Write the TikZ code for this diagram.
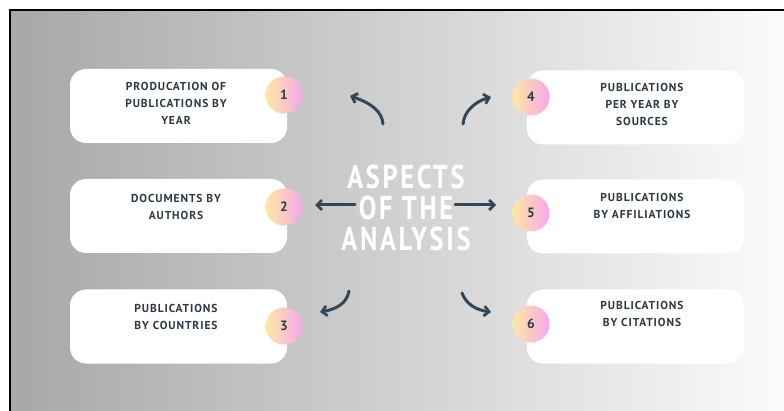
\documentclass[tikz,border=0pt]{standalone}
\usepackage{fontspec}
\newfontfamily\labfont[LetterSpace=8]{PT Sans}
\newfontfamily\titlefont[FakeStretch=0.8,LetterSpace=8]{PT Sans}
\usetikzlibrary{arrows.meta}
\definecolor{ink}{HTML}{2B3946}
\definecolor{arr}{HTML}{33475A}
\definecolor{bgl}{HTML}{A7A7A7}
\definecolor{bgr}{HTML}{FBFBFB}
\definecolor{cy}{HTML}{FDE9A2}
\definecolor{cp}{HTML}{F8A6EC}
\begin{document}
\begin{tikzpicture}[x=1pt,y=-1pt,
  card/.style={fill=white,rounded corners=16pt,minimum width=217pt,minimum height=74pt,draw=none,inner sep=0pt},
  lab/.style={font=\labfont\bfseries\fontsize{11.5}{17}\selectfont,text=ink,align=center,inner sep=0pt},
  badge/.style={circle,minimum size=37pt,left color=cy,right color=cp,font=\labfont\bfseries\fontsize{13.5}{14}\selectfont,text=ink,inner sep=0pt},
  title/.style={font=\titlefont\bfseries\fontsize{33}{31}\selectfont,text=white,align=center,inner sep=0pt},
  arw/.style={draw=arr,line width=3pt,line cap=round,-{Straight Barb[length=5pt,width=10pt,line width=2.8pt]}}
]
\useasboundingbox (0,0) rectangle (784,411);
\fill[white] (0,0) rectangle (784,411);
\shade[left color=bgl,right color=bgr] (10,10) rectangle (784,411);
\draw[black,line width=2.5pt] (10,411) -- (10,10) -- (784,10);

% cards
\node[card] (c1) at (178.5,106) {};
\node[card] (c2) at (178.5,216) {};
\node[card] (c3) at (178.5,326.5) {};
\node[card] (c4) at (635.5,107.5) {};
\node[card] (c5) at (635.5,216.5) {};
\node[card] (c6) at (635.5,326.5) {};

% labels
\node[lab] (t1) at (176,103.5) {PRODUCATION OF\\PUBLICATIONS BY\\YEAR};
\node[lab] (t2) at (176,206.5) {DOCUMENTS BY\\AUTHORS};
\node[lab] (t3) at (176,317) {PUBLICATIONS\\BY COUNTRIES};
\node[lab] (t4) at (642,104) {PUBLICATIONS\\PER YEAR BY\\SOURCES};
\node[lab] (t5) at (642,205.5) {PUBLICATIONS\\BY AFFILIATIONS};
\node[lab] (t6) at (642,313.5) {PUBLICATIONS\\BY CITATIONS};

% badges
\node[badge] (b1) at (284,95) {1};
\node[badge] (b2) at (284,207) {2};
\node[badge] (b3) at (284,326) {3};
\node[badge] (b4) at (531,97) {4};
\node[badge] (b5) at (531,213) {5};
\node[badge] (b6) at (531,324) {6};

% title
\node[title] (ttl) at (406,208) {ASPECTS\\OF THE\\ANALYSIS};

% arrows
\coordinate (a1s) at (383,124); \coordinate (a1e) at (350,96);
\coordinate (a4s) at (463,124); \coordinate (a4e) at (491,97);
\coordinate (a2s) at (355,205); \coordinate (a2e) at (315,205);
\coordinate (a5s) at (455,205); \coordinate (a5e) at (496,205);
\coordinate (a3s) at (349,291); \coordinate (a3e) at (320,312);
\coordinate (a6s) at (462,293); \coordinate (a6e) at (491,312);
\draw[arw] (a1s) .. controls (382,113) and (374,104) .. (a1e);
\draw[arw] (a4s) .. controls (464,112) and (474,102) .. (a4e);
\draw[arw] (a2s) -- (a2e);
\draw[arw] (a5s) -- (a5e);
\draw[arw] (a3s) .. controls (347,303) and (337,309) .. (a3e);
\draw[arw] (a6s) .. controls (466,304) and (476,310) .. (a6e);
\end{tikzpicture}
\end{document}
